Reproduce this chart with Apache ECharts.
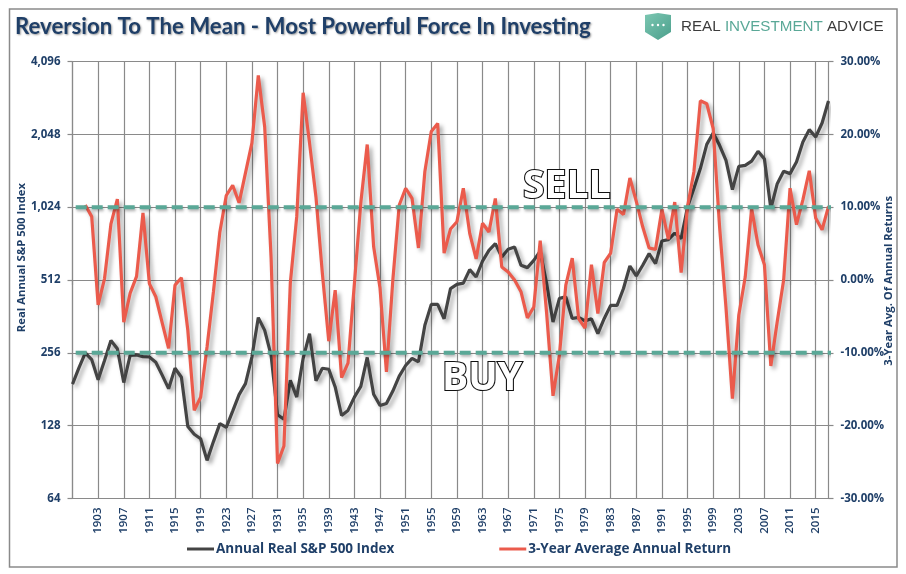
<!DOCTYPE html>
<html lang="en">
<head>
    <meta charset="UTF-8">
    <title>Reversion To The Mean</title>
    <style>
        html, body { margin: 0; padding: 0; background: #fff; }
    </style>
</head>
<body>

    <script src="https://cdn.jsdelivr.net/npm/echarts@6/dist/echarts.min.js"></script>

    <div id="main" style="width: 906px;height:574px;"></div>

    <script>
        var firstYear = 1899;
        var years = [];
        for (var y = firstYear; y <= 2017; y++) {
            years.push(String(y));
        }

        // 1899 - 2017
        var realIndex = [
            190, 222, 256, 240, 198, 238, 288, 266, 193, 250,
            251, 247, 246, 234, 207, 182, 221, 203, 127, 118,
            113, 92, 110, 130.5, 126, 147, 172, 191, 246, 358,
            317, 250, 142, 136, 197, 168, 243, 307, 196, 221,
            219, 185, 141, 148, 168, 186, 245, 172.5, 155, 158,
            178, 205, 227, 243, 235, 333, 406, 406, 354, 472,
            491, 497, 565, 527, 613, 679, 724, 637, 686, 701,
            589, 576, 617, 673, 496, 343, 430, 436, 355, 359,
            347, 354, 307, 355, 402, 402, 472, 585, 532, 589,
            658, 598, 742, 752, 800, 759, 1025, 1225, 1478, 1862,
            2073, 1845, 1599, 1210, 1510, 1525, 1588, 1742, 1619, 1010,
            1281, 1440, 1409, 1574, 1903, 2142, 1996, 2281, 2811
        ];

        // 1899 - 2017, the series starts in 1901
        var avgReturn = [
            null, null, 10.3, 8.7, -3.4, 0.2, 7.7, 11.1, -5.8, -1.8,
            0.5, 9.2, -0.5, -2.3, -5.9, -9.4, -0.7, 0.3, -6.9, -17.9,
            -16.1, -9.2, -1.6, 6.6, 11.6, 13.0, 10.6, 14.7, 18.8, 28.1,
            21.0, 3.0, -25.2, -22.8, -0.4, 8.7, 25.7, 18.8, 11.4, 0.9,
            -8.4, -1.4, -13.4, -11.4, -0.5, 10.6, 18.6, 4.6, -1.1, -12.6,
            0, 10.3, 12.6, 11.2, 4.4, 14.9, 20.4, 21.5, 3.7, 7.0,
            8.0, 12.6, 6.4, 2.9, 7.8, 6.6, 11.2, 1.8, 1.1, 0,
            -1.6, -5.2, -3.7, 5.4, -4.5, -15.9, -10.3, -0.7, 3.0, -5.3,
            -6.6, 2.1, -4.6, 2.4, 3.7, 9.7, 9.0, 14.0, 10.8, 7.3,
            4.4, 4.2, 9.7, 5.6, 10.7, 1.0, 10.1, 14.9, 24.6, 24.2,
            20.8, 7.3, -3.8, -16.3, -4.8, 0.4, 9.8, 4.8, 2.1, -11.8,
            -5.7, 0, 12.6, 7.6, 11.0, 15.0, 8.5, 6.9, 10.1
        ];

        // dashed sell / buy levels, x in years on a hidden value axis
        var sellLine = [[1899.5, 10], [2018.1, 10]];
        var buyLine = [[1899.5, -10], [2018.1, -10]];

        var navy = '#1f3f68';
        var labelFont = '"Open Sans", sans-serif';

        var myChart = echarts.init(document.getElementById('main'));

        function levelSeries(name, points) {
            return {
                name: name,
                type: 'line',
                xAxisIndex: 1,
                yAxisIndex: 1,
                data: points,
                symbol: 'none',
                clip: false,
                silent: true,
                z: 6,
                lineStyle: {
                    color: '#5aa897',
                    width: 4,
                    type: [11, 5],
                    shadowColor: 'rgba(0,0,0,0.3)',
                    shadowBlur: 3,
                    shadowOffsetX: 1,
                    shadowOffsetY: 2
                }
            };
        }

        function bigWord(word, x, y) {
            return {
                type: 'text',
                left: x,
                top: y,
                z: 20,
                style: {
                    text: word,
                    fill: '#fff',
                    stroke: '#111',
                    lineWidth: 2.2,
                    font: 'bold 39px "Open Sans", sans-serif',
                    shadowColor: 'rgba(0,0,0,0.5)',
                    shadowBlur: 3,
                    shadowOffsetX: 2,
                    shadowOffsetY: 2
                }
            };
        }

        var option = {
            animation: false,
            textStyle: { fontFamily: labelFont },
            grid: { left: 72.5, right: 77.5, top: 61.5, bottom: 75.5 },
            title: {
                text: 'Reversion To The Mean - Most Powerful Force In Investing',
                left: 10,
                top: 11,
                textStyle: {
                    color: navy,
                    fontFamily: 'Lato, sans-serif',
                    fontWeight: 'bold',
                    fontSize: 22.2,
                    textShadowColor: 'rgba(0,0,0,0.4)',
                    textShadowBlur: 2,
                    textShadowOffsetX: 1,
                    textShadowOffsetY: 1
                }
            },
            legend: {
                left: 182,
                top: 537,
                itemWidth: 27,
                itemHeight: 3,
                itemGap: 105,
                icon: 'rect',
                data: ['Annual Real S&P 500 Index', '3-Year Average Annual Return'],
                textStyle: { color: navy, fontWeight: 'bold', fontSize: 13.5, fontFamily: labelFont, padding: [0, 0, 0, -3] }
            },
            xAxis: [
                {
                    type: 'category',
                    data: years,
                    boundaryGap: false,
                    axisLine: { lineStyle: { color: '#8a8a8a', width: 1.2 } },
                    axisTick: { length: 5, interval: 3, lineStyle: { color: '#8a8a8a', width: 1.2 } },
                    axisLabel: {
                        rotate: 90,
                        color: navy,
                        fontSize: 11.5,
                        fontWeight: 600,
                        margin: 9,
                        interval: function (index) {
                            return index > 0 && index % 4 === 0;
                        }
                    },
                    splitLine: { show: true, interval: 3, lineStyle: { color: '#8a8a8a', width: 1.2 } }
                },
                { type: 'value', min: 1899, max: 2017, show: false }
            ],
            yAxis: [
                {
                    type: 'log',
                    logBase: 2,
                    min: 64,
                    max: 4096,
                    axisLine: { show: true, lineStyle: { color: '#8a8a8a', width: 1.2 } },
                    axisTick: { show: true, length: 5, lineStyle: { color: '#8a8a8a', width: 1.2 } },
                    minorTick: { show: false },
                    axisLabel: {
                        color: navy,
                        fontSize: 11.5,
                        fontWeight: 'bold',
                        margin: 12,
                        formatter: function (v) { return v.toLocaleString('en-US'); }
                    },
                    splitLine: { show: true, lineStyle: { color: '#8a8a8a', width: 1.2 } }
                },
                {
                    type: 'value',
                    min: -30,
                    max: 30,
                    interval: 10,
                    position: 'right',
                    axisLine: { show: true, lineStyle: { color: '#8a8a8a', width: 1.2 } },
                    axisTick: { show: true, length: 5, lineStyle: { color: '#8a8a8a', width: 1.2 } },
                    axisLabel: {
                        color: navy,
                        fontSize: 11.5,
                        fontWeight: 'bold',
                        margin: 12,
                        formatter: function (v) { return v.toFixed(2) + '%'; }
                    },
                    splitLine: { show: false }
                }
            ],
            series: [
                {
                    name: 'Annual Real S&P 500 Index',
                    type: 'line',
                    data: realIndex,
                    yAxisIndex: 0,
                    symbol: 'none',
                    z: 3,
                    itemStyle: { color: '#444444' },
                    lineStyle: {
                        color: '#444444',
                        width: 3.2,
                        shadowColor: 'rgba(0,0,0,0.35)',
                        shadowBlur: 4,
                        shadowOffsetX: 3,
                        shadowOffsetY: 3
                    }
                },
                {
                    name: '3-Year Average Annual Return',
                    type: 'line',
                    data: avgReturn,
                    yAxisIndex: 1,
                    symbol: 'none',
                    z: 5,
                    itemStyle: { color: '#eb5b4c' },
                    lineStyle: {
                        color: '#eb5b4c',
                        width: 3.2,
                        shadowColor: 'rgba(0,0,0,0.35)',
                        shadowBlur: 4,
                        shadowOffsetX: 3,
                        shadowOffsetY: 3
                    }
                },
                levelSeries('Sell level', sellLine),
                levelSeries('Buy level', buyLine)
            ],
            graphic: [
                {
                    type: 'rect',
                    shape: { x: 9.5, y: 9, width: 887.5, height: 558 },
                    style: { fill: 'none', stroke: '#8a8a8a', lineWidth: 1.5 },
                    z: 0
                },
                {
                    // shield of the logo
                    type: 'polygon',
                    shape: { points: [[645, 15], [658, 13], [671, 15], [671, 32], [658, 40], [645, 32]] },
                    style: {
                        fill: new echarts.graphic.LinearGradient(0, 0, 1, 1, [
                            { offset: 0, color: '#7cc7b2' },
                            { offset: 1, color: '#4b9f8c' }
                        ])
                    }
                },
                { type: 'circle', shape: { cx: 652.5, cy: 25, r: 1.2 }, style: { fill: '#fff' } },
                { type: 'circle', shape: { cx: 658, cy: 25, r: 1.2 }, style: { fill: '#fff' } },
                { type: 'circle', shape: { cx: 663.5, cy: 25, r: 1.2 }, style: { fill: '#fff' } },
                {
                    type: 'text',
                    left: 681,
                    top: 19,
                    style: {
                        text: '{a|REAL} {b|INVESTMENT} {a|ADVICE}',
                        font: '15.2px "Liberation Sans", sans-serif',
                        rich: {
                            a: { fill: '#3c3c3c', font: '15.2px "Liberation Sans", sans-serif' },
                            b: { fill: '#5aa897', font: '15.2px "Liberation Sans", sans-serif' }
                        }
                    }
                },
                {
                    type: 'text',
                    left: 16,
                    top: 183,
                    rotation: Math.PI / 2,
                    style: { text: 'Real Annual S&P 500 Index', fill: navy, font: 'bold 11.3px "Open Sans", sans-serif' }
                },
                {
                    type: 'text',
                    left: 883,
                    top: 196,
                    rotation: Math.PI / 2,
                    style: { text: '3-Year Avg. Of Annual Returns', fill: navy, font: 'bold 11.3px "Open Sans", sans-serif' }
                },
                bigWord('SELL', 522, 166),
                bigWord('BUY', 441, 358)
            ]
        };

        myChart.setOption(option);
    </script>

</body>
</html>
